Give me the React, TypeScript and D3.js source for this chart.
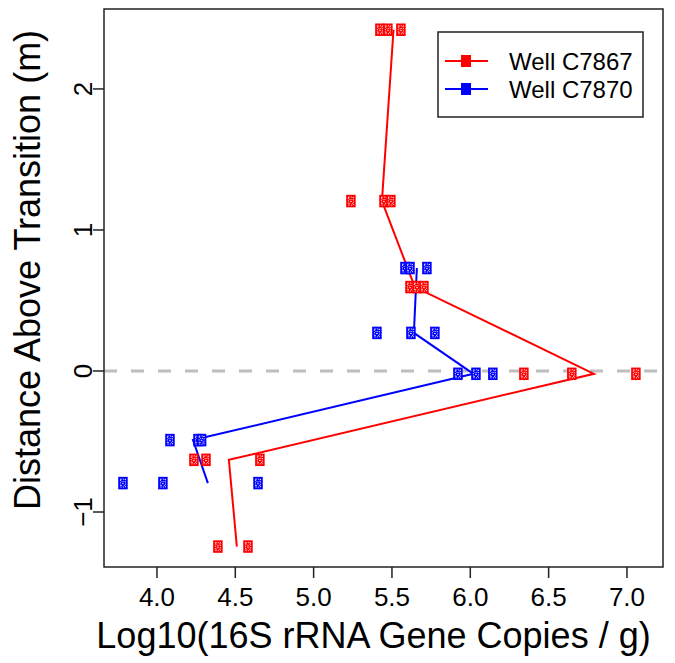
import React from "react";
import * as d3 from "d3";

const W = 675;
const H = 663;

const xTicks = [4.0, 4.5, 5.0, 5.5, 6.0, 6.5, 7.0];
const yTicks = [-1, 0, 1, 2];

// Well C7867 (red)
const redDepth = [2.42, 1.205, 0.595, -0.02, -0.63, -1.245];
const redReps = [
  [5.423, 5.474, 5.557],
  [5.238, 5.449, 5.493],
  [5.615, 5.66, 5.704],
  [6.342, 6.648, 7.057],
  [4.236, 4.313, 4.657],
  [4.389, 4.581],
];
const redMean = [5.51, 5.436, 5.646, 6.789, 4.459, 4.51];

// Well C7870 (blue)
const blueDepth = [0.73, 0.27, -0.02, -0.49, -0.795];
const blueReps = [
  [5.583, 5.615, 5.723],
  [5.404, 5.621, 5.774],
  [5.921, 6.036, 6.144],
  [4.083, 4.262, 4.285],
  [3.783, 4.038, 4.645],
];
const blueMean = [5.659, 5.64, 6.02, 4.23, 4.325];

const seriesNames = ["Well C7867", "Well C7870"];
const seriesColors = ["#ff0000", "#0000ff"];

const FONT = "'Liberation Sans', Arial, Helvetica, sans-serif";

const plot = { left: 104, right: 663, top: 9, bottom: 567 };

const x = d3.scaleLinear().domain([3.662, 7.23]).range([plot.left, plot.right]);
const y = d3.scaleLinear().domain([-1.39, 2.567]).range([plot.bottom, plot.top]);

function Marker({ cx, cy, color }: { cx: number; cy: number; color: string }) {
  const w = 9.5;
  const h = 12.5;
  const iw = 5;
  const ih = 8;
  return (
    <g>
      <rect x={cx - w / 2} y={cy - h / 2} width={w} height={h} fill={color} />
      <rect
        x={cx - iw / 2}
        y={cy - ih / 2}
        width={iw}
        height={ih}
        fill="none"
        stroke="#fff"
        strokeWidth={0.8}
        strokeDasharray="1.2,1.2"
      />
      <path
        d={`M${cx - iw / 2},${cy - ih / 2}L${cx + iw / 2},${cy + ih / 2}M${cx + iw / 2},${cy - ih / 2}L${cx - iw / 2},${cy + ih / 2}`}
        stroke="#fff"
        strokeWidth={0.8}
        strokeDasharray="1.2,1.2"
      />
    </g>
  );
}

export default function App() {
  const line = d3
    .line<[number, number]>()
    .x((d) => x(d[0]))
    .y((d) => y(d[1]));

  const redLine = line(redMean.map((m, i) => [m, redDepth[i]] as [number, number])) || "";
  const blueLine = line(blueMean.map((m, i) => [m, blueDepth[i]] as [number, number])) || "";

  const legend = { x: 438, y: 32, w: 205, h: 85 };

  return (
    <svg
      width={W}
      height={H}
      style={{ position: "absolute", left: 0, top: 0, background: "#fff" }}
      fontFamily={FONT}
    >
      <rect width={W} height={H} fill="#fff" />
      {/* zero reference */}
      <line
        x1={plot.left}
        x2={plot.right}
        y1={y(0)}
        y2={y(0)}
        stroke="#bebebe"
        strokeWidth={3}
        strokeDasharray="13,14"
      />
      {/* lines */}
      <path d={redLine} fill="none" stroke={seriesColors[0]} strokeWidth={2} />
      <path d={blueLine} fill="none" stroke={seriesColors[1]} strokeWidth={2} />
      {/* points */}
      {redReps.map((reps, i) =>
        reps.map((v, j) => <Marker key={`r${i}-${j}`} cx={x(v)} cy={y(redDepth[i])} color={seriesColors[0]} />)
      )}
      {blueReps.map((reps, i) =>
        reps.map((v, j) => <Marker key={`b${i}-${j}`} cx={x(v)} cy={y(blueDepth[i])} color={seriesColors[1]} />)
      )}
      {/* frame */}
      <rect
        x={plot.left}
        y={plot.top}
        width={plot.right - plot.left}
        height={plot.bottom - plot.top}
        fill="none"
        stroke="#222"
        strokeWidth={1.5}
      />
      {/* x axis */}
      {xTicks.map((t) => (
        <g key={`xt${t}`}>
          <line x1={x(t)} x2={x(t)} y1={plot.bottom} y2={plot.bottom + 11} stroke="#222" strokeWidth={1.5} />
          <text x={x(t)} y={606} textAnchor="middle" fontSize={26} fill="#000">
            {t.toFixed(1)}
          </text>
        </g>
      ))}
      {/* y axis */}
      {yTicks.map((t) => (
        <g key={`yt${t}`}>
          <line x1={plot.left - 11} x2={plot.left} y1={y(t)} y2={y(t)} stroke="#222" strokeWidth={1.5} />
          <text
            transform={`translate(92,${y(t)}) rotate(-90)`}
            textAnchor="middle"
            fontSize={26}
            fill="#000"
          >
            {t < 0 ? `\u2212${Math.abs(t)}` : `${t}`}
          </text>
        </g>
      ))}
      <text x={(plot.left + plot.right) / 2 - 10} y={648} textAnchor="middle" fontSize={36} fill="#000">
        Log10(16S rRNA Gene Copies / g)
      </text>
      <text
        transform={`translate(40,${(plot.top + plot.bottom) / 2 - 18}) rotate(-90)`}
        textAnchor="middle"
        fontSize={36}
        fill="#000"
      >
        Distance Above Transition (m)
      </text>
      {/* legend */}
      <rect x={legend.x} y={legend.y} width={legend.w} height={legend.h} fill="#fff" stroke="#222" strokeWidth={1.5} />
      {seriesNames.map((name, i) => {
        const ly = 61 + i * 28;
        return (
          <g key={name}>
            <line x1={445} x2={488} y1={ly} y2={ly} stroke={seriesColors[i]} strokeWidth={2} />
            <rect x={466 - 5} y={ly - 6} width={10} height={12} fill={seriesColors[i]} />
            <text x={509} y={ly + 8.5} fontSize={24} fill="#000">
              {name}
            </text>
          </g>
        );
      })}
    </svg>
  );
}
